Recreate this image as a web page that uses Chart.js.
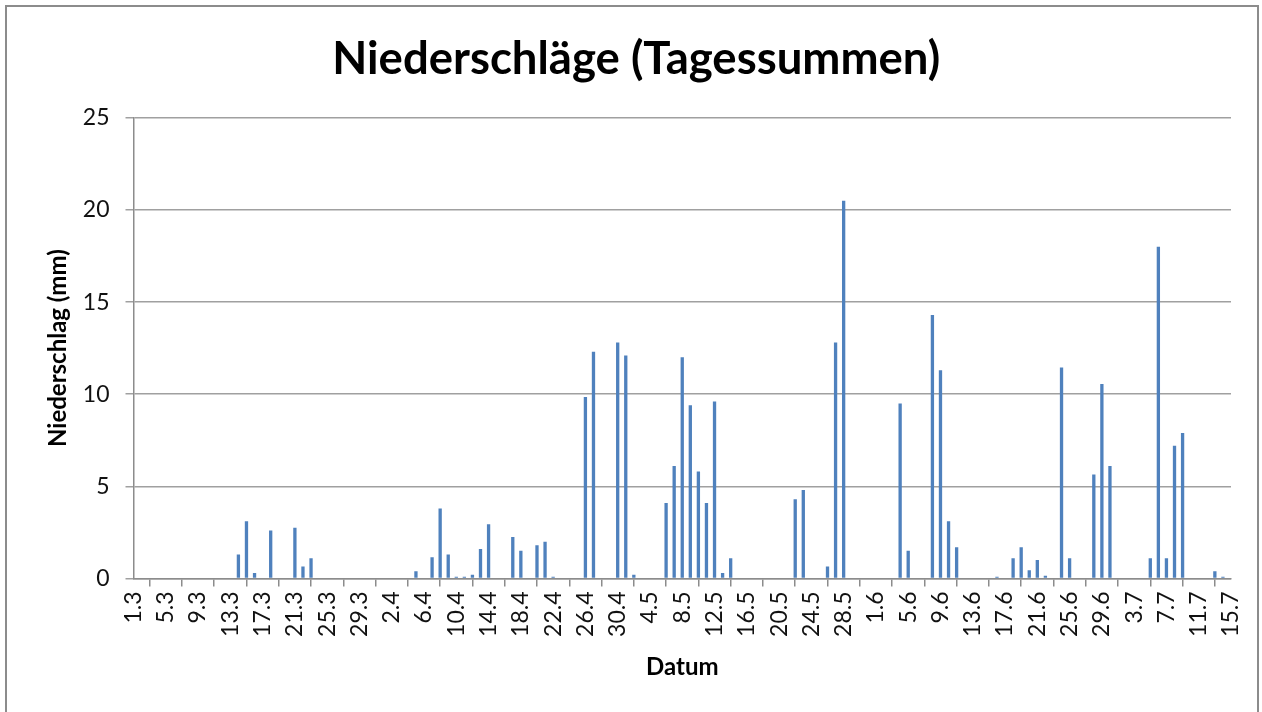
<!DOCTYPE html>
<html>
<head>
<meta charset="utf-8">
<script src="https://cdn.jsdelivr.net/npm/chart.js@4"></script>
<style>
    body { margin: 0; background: #fff; }
    #wrap { position: absolute; left: 0; top: 0; width: 1262px; height: 712px; }
    #frame { position: absolute; left: 5px; top: 5px; width: 1250px; height: 760px; border: 2px solid #8c8c8c; pointer-events: none; }
</style>
</head>
<body>
<div id="wrap">
    <canvas id="rainChart" width="1262" height="712"></canvas>
</div>
<div id="frame"></div>
<script>
// Monate und Anzahl der dargestellten Tage (1.3. bis 15.7.)
const months = [3, 4, 5, 6, 7];
const daysShown = [31, 30, 31, 30, 15];

const marchRain = [0, 0, 0, 0, 0, 0, 0, 0, 0, 0, 0, 0, 0, 1.3, 3.1, 0.3, 0, 2.6, 0, 0, 2.75, 0.65, 1.1, 0, 0, 0, 0, 0, 0, 0, 0];
const aprilRain = [0, 0, 0, 0, 0.4, 0, 1.15, 3.8, 1.3, 0.1, 0.1, 0.2, 1.6, 2.95, 0, 0, 2.25, 1.5, 0, 1.8, 2.0, 0.1, 0, 0, 0, 9.85, 12.3, 0, 0, 12.8];
const mayRain = [12.1, 0.2, 0, 0, 0, 4.1, 6.1, 12.0, 9.4, 5.8, 4.1, 9.6, 0.3, 1.1, 0, 0, 0, 0, 0, 0, 0, 4.3, 4.8, 0, 0, 0.65, 12.8, 20.5, 0, 0, 0];
const juneRain = [0, 0, 0, 9.5, 1.5, 0, 0, 14.3, 11.3, 3.1, 1.7, 0, 0, 0, 0, 0.1, 0, 1.1, 1.7, 0.45, 1.0, 0.15, 0, 11.45, 1.1, 0, 0, 5.65, 10.55, 6.1];
const julyRain = [0, 0, 0, 0, 1.1, 18.0, 1.1, 7.2, 7.9, 0, 0, 0, 0.4, 0.1, 0];

// y-Achse
const yTicks = [0, 5, 10, 15, 20, 25];
const labelEvery = 4;

// Kategorien "T.M"
const dates = [];
months.forEach((m, k) => {
    for (let d = 1; d <= daysShown[k]; d++) {
        dates.push(d + '.' + m);
    }
});
const rain = [].concat(marchRain, aprilRain, mayRain, juneRain, julyRain);

const axisGray = '#8c8c8c';
const fontFamily = 'Lato, "Liberation Sans", sans-serif';

const ctx = document.getElementById('rainChart').getContext('2d');
new Chart(ctx, {
    type: 'bar',
    data: {
        labels: dates,
        datasets: [{
            label: 'Niederschlag',
            data: rain,
            backgroundColor: '#4F81BD',
            borderWidth: 0,
            categoryPercentage: 1,
            barPercentage: 0.41
        }]
    },
    options: {
        responsive: false,
        animation: false,
        layout: {
            padding: { left: 41.5, right: 31, top: 0, bottom: 20 }
        },
        plugins: {
            legend: { display: false },
            tooltip: { enabled: false },
            title: {
                display: true,
                text: 'Niederschläge (Tagessummen)',
                color: '#000',
                font: { family: fontFamily, size: 45.5, weight: 'bold', lineHeight: 1.2 },
                padding: { top: 32, bottom: 31.2 }
            }
        },
        scales: {
            x: {
                offset: false,
                border: { display: true, color: axisGray, width: 1.5 },
                grid: {
                    display: true,
                    drawOnChartArea: false,
                    drawTicks: true,
                    tickLength: 8,
                    color: axisGray,
                    lineWidth: 1.5
                },
                ticks: {
                    autoSkip: false,
                    minRotation: 90,
                    maxRotation: 90,
                    padding: 5,
                    color: '#111',
                    font: { family: fontFamily, size: 23 },
                    callback: function (value, index) {
                        return index % labelEvery === 0 ? this.getLabelForValue(value) : null;
                    }
                },
                title: {
                    display: true,
                    text: 'Datum',
                    color: '#000',
                    font: { family: fontFamily, size: 24, weight: 'bold', lineHeight: 1.2 },
                    padding: { top: 0, bottom: 10 }
                },
                afterFit: function (scale) {
                    scale.height = 113.5;
                    scale.paddingLeft = 0;
                    scale.paddingRight = 0;
                }
            },
            y: {
                min: yTicks[0],
                max: yTicks[yTicks.length - 1],
                border: { display: true, color: axisGray, width: 1.5 },
                grid: {
                    color: '#a0a0a0',
                    lineWidth: 1.5,
                    drawTicks: true,
                    tickLength: 8
                },
                afterBuildTicks: function (scale) {
                    scale.ticks = yTicks.map(v => ({ value: v }));
                },
                ticks: {
                    padding: 16,
                    color: '#111',
                    font: { family: fontFamily, size: 23 }
                },
                title: {
                    display: true,
                    text: 'Niederschlag (mm)',
                    color: '#000',
                    font: { family: fontFamily, size: 24, weight: 'bold', lineHeight: 1.2 },
                    padding: { top: 2.5, bottom: 0 }
                },
                afterFit: function (scale) {
                    scale.width = 92;
                }
            }
        }
    }
});
</script>
</body>
</html>
